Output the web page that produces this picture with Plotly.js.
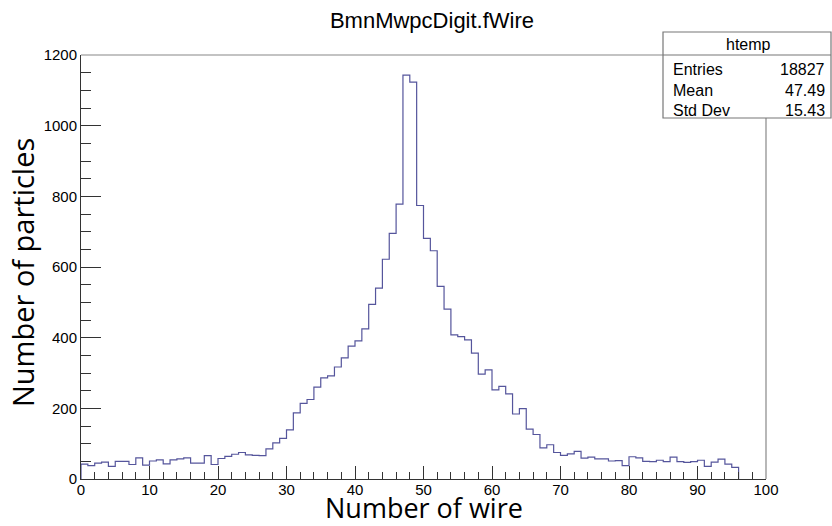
<!DOCTYPE html>
<html>
<head>
<meta charset="utf-8">
<script src="https://cdn.plot.ly/plotly-3.0.1.min.js"></script>
<style>html,body{margin:0;padding:0;background:#fff;}#chart{width:832px;height:526px;}</style>
</head>
<body>
<div id="chart"></div>
<script>
// Histogram of BmnMwpcDigit.fWire, bins of width 1 starting at wire 0
const binLow = 0;
const binWidth = 1;
const counts = [
  42, 38, 45, 48, 36, 50, 50, 41, 60, 39,
  51, 54, 43, 54, 57, 60, 45, 45, 66, 41,
  58, 64, 70, 75, 68, 67, 66, 85, 102, 115,
  139, 187, 214, 225, 260, 286, 292, 317, 343, 376,
  391, 425, 494, 540, 622, 695, 778, 1143, 1123, 774,
  681, 646, 545, 481, 408, 403, 394, 356, 297, 309,
  252, 262, 241, 184, 199, 141, 126, 88, 97, 75,
  67, 71, 78, 59, 62, 57, 57, 51, 52, 38,
  63, 60, 50, 49, 53, 49, 62, 49, 47, 49,
  53, 36, 48, 56, 42, 33
];
const statsLabels = ["Entries", "Mean", "Std Dev"];
const statsValues = ["18827", "47.49", "15.43"];
const histName = "htemp";
const chartTitle = "BmnMwpcDigit.fWire";
const xTitle = "Number of wire";
const yTitle = "Number of particles";

// step outline: start at baseline, each bin's low edge, close at last edge
const xs = [binLow];
const ys = [0];
for (let i = 0; i < counts.length; i++) {
  xs.push(binLow + i * binWidth);
  ys.push(counts[i]);
}
xs.push(binLow + counts.length * binWidth);
ys.push(0);

const trace = {
  type: 'scatter', mode: 'lines', x: xs, y: ys,
  line: {shape: 'hv', color: '#55559c', width: 1.2},
  hoverinfo: 'skip', showlegend: false, cliponaxis: false
};

const tickFont = {family: 'Liberation Sans, Arial, sans-serif', size: 15, color: '#000'};
const boxFont = {family: 'Liberation Sans, Arial, sans-serif', size: 16, color: '#000'};
const titleFont = {family: 'Open Sans, sans-serif', size: 27, color: '#000'};
const yTitleFont = {family: 'Open Sans, sans-serif', size: 29, color: '#000'};

// plot area px: left 81, right 766, top 55, bottom 479
const L = 81, R = 766, T = 55, B = 479;
const px = v => (v - L) / (R - L);
const py = v => (B - v) / (B - T);

const statsX0 = px(663), statsX1 = px(831);
const statsTop = py(32), statsSep = py(55), statsBot = py(118);
const rowY = [py(70), py(90.5), py(111)];

const annotations = [
  {xref: 'paper', yref: 'paper', x: px(748), y: py(45), text: histName, showarrow: false, font: boxFont, xanchor: 'center', yanchor: 'middle'},
  {xref: 'paper', yref: 'paper', x: 0.5, y: py(526), text: xTitle, showarrow: false, font: titleFont, xanchor: 'center', yanchor: 'bottom', yshift: -2},
  {xref: 'paper', yref: 'paper', x: px(22), y: py(273), text: yTitle, showarrow: false, font: yTitleFont, xanchor: 'center', yanchor: 'middle', textangle: -90}
];
statsLabels.forEach((lab, i) => {
  annotations.push({xref: 'paper', yref: 'paper', x: px(671), y: rowY[i], text: lab, showarrow: false, font: boxFont, xanchor: 'left', yanchor: 'middle'});
  annotations.push({xref: 'paper', yref: 'paper', x: px(827), y: rowY[i], text: statsValues[i], showarrow: false, font: boxFont, xanchor: 'right', yanchor: 'middle'});
});

const shapes = [
  // frame (top/right in gray)
  {type: 'line', xref: 'paper', yref: 'paper', x0: 0, x1: 1, y0: 1, y1: 1, line: {color: '#888', width: 1.2}, layer: 'above'},
  {type: 'line', xref: 'paper', yref: 'paper', x0: 1, x1: 1, y0: 0, y1: 1, line: {color: '#888', width: 1.2}, layer: 'above'},
  // stats box
  {type: 'rect', xref: 'paper', yref: 'paper', x0: statsX0, x1: statsX1, y0: statsBot, y1: statsTop, line: {color: '#777', width: 1.2}, fillcolor: '#fff', layer: 'above'},
  {type: 'line', xref: 'paper', yref: 'paper', x0: statsX0, x1: statsX1, y0: statsSep, y1: statsSep, line: {color: '#777', width: 1.2}, layer: 'above'}
];

const layout = {
  width: 832, height: 526,
  margin: {l: L, r: 832 - R, t: T, b: 526 - B, pad: 0},
  paper_bgcolor: '#fff', plot_bgcolor: '#fff',
  title: {text: chartTitle, x: 432 / 832, xanchor: 'center', xref: 'container', y: 1 - 20 / 526, yanchor: 'middle', yref: 'container',
          font: {family: 'Liberation Sans, Arial, sans-serif', size: 22, color: '#000'}},
  xaxis: {
    range: [0, 100], dtick: 10, tick0: 0, ticks: 'inside', ticklen: 13, tickwidth: 1, tickcolor: '#333',
    showgrid: false, zeroline: false, showline: true, linecolor: '#333', linewidth: 1, mirror: false,
    tickfont: tickFont, fixedrange: true, ticklabelstandoff: -3,
    minor: {dtick: 2, tick0: 0, ticks: 'inside', ticklen: 7, tickwidth: 1, tickcolor: '#333', showgrid: false}
  },
  yaxis: {
    range: [0, 1200], dtick: 200, tick0: 0, ticks: 'inside', ticklen: 20, tickwidth: 1, tickcolor: '#333',
    showgrid: false, zeroline: false, showline: true, linecolor: '#333', linewidth: 1, mirror: false,
    tickfont: tickFont, fixedrange: true,
    minor: {dtick: 50, tick0: 0, ticks: 'inside', ticklen: 10, tickwidth: 1, tickcolor: '#333', showgrid: false}
  },
  shapes: shapes,
  annotations: annotations,
  showlegend: false
};

Plotly.newPlot('chart', [trace], layout, {staticPlot: true, displayModeBar: false});
</script>
</body>
</html>
